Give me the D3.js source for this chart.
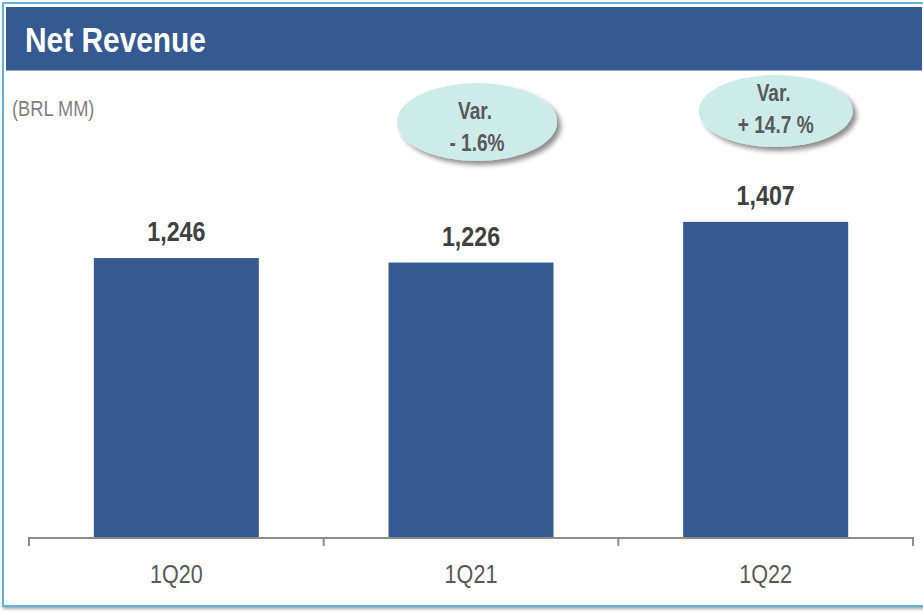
<!DOCTYPE html>
<html>
<head>
<meta charset="utf-8">
<script src="https://cdn.jsdelivr.net/npm/d3@7"></script>
<style>
  html, body { margin: 0; padding: 0; background: #fff; }
  svg { display: block; font-family: "Liberation Sans", Arial, sans-serif; }
</style>
</head>
<body>
<div id="chart"></div>
<script>
"use strict";

// data
const categories = ["1Q20", "1Q21", "1Q22"];
const values = [1246, 1226, 1407];
const valueLabels = ["1,246", "1,226", "1,407"];
const variations = [null, "- 1.6%", "+ 14.7 %"];

const width = 923, height = 613;
const narrow = 0.83; // squeeze text horizontally, the slide uses a narrow face

const svg = d3.select("#chart")
  .append("svg")
  .attr("width", width)
  .attr("height", height);

const defs = svg.append("defs");
const shadow = defs.append("filter").attr("id", "shadow")
  .attr("x", "-20%").attr("y", "-20%").attr("width", "150%").attr("height", "150%");
shadow.append("feGaussianBlur").attr("in", "SourceAlpha").attr("stdDeviation", 2.5);
shadow.append("feOffset").attr("dx", 4).attr("dy", 4).attr("result", "off");
shadow.append("feComponentTransfer").append("feFuncA").attr("type", "linear").attr("slope", 0.45);
const merge = shadow.append("feMerge");
merge.append("feMergeNode");
merge.append("feMergeNode").attr("in", "SourceGraphic");

const frameShadow = defs.append("filter").attr("id", "frameShadow")
  .attr("x", "-5%").attr("y", "-5%").attr("width", "110%").attr("height", "110%");
frameShadow.append("feGaussianBlur").attr("in", "SourceAlpha").attr("stdDeviation", 1.5);
frameShadow.append("feOffset").attr("dx", 1).attr("dy", 2).attr("result", "off");
frameShadow.append("feComponentTransfer").append("feFuncA").attr("type", "linear").attr("slope", 0.35);
const merge2 = frameShadow.append("feMerge");
merge2.append("feMergeNode");
merge2.append("feMergeNode").attr("in", "SourceGraphic");

// place a squeezed text at (tx, ty)
function squeeze(sel, tx, ty) {
  return sel.attr("transform", function (d, i) {
    const px = typeof tx === "function" ? tx(d, i) : tx;
    const py = typeof ty === "function" ? ty(d, i) : ty;
    return "translate(" + px + "," + py + ") scale(" + narrow + ",1)";
  });
}

// outer frame
svg.append("rect")
  .attr("x", 3).attr("y", 3)
  .attr("width", 960).attr("height", 603)
  .attr("fill", "#fff")
  .attr("stroke", "#5fb3dc")
  .attr("stroke-width", 2)
  .attr("filter", "url(#frameShadow)");

// header band
svg.append("rect")
  .attr("x", 6).attr("y", 7)
  .attr("width", 916).attr("height", 63)
  .attr("fill", "#355a92");
svg.append("line")
  .attr("x1", 6).attr("x2", 922)
  .attr("y1", 70.5).attr("y2", 70.5)
  .attr("stroke", "#8ea8cf").attr("stroke-width", 1);

squeeze(svg.append("text"), 25, 52)
  .attr("fill", "#fff")
  .attr("font-size", 36)
  .attr("font-weight", "bold")
  .text("Net Revenue");

squeeze(svg.append("text"), 12, 116)
  .attr("fill", "#7f7f7f")
  .attr("font-size", 22)
  .text("(BRL MM)");

// scales
const x = d3.scaleBand()
  .domain(categories)
  .range([29, 913])
  .paddingInner(0.44)
  .paddingOuter(0.22);

const y = d3.scaleLinear()
  .domain([0, 1600])
  .range([538, 178.5]);

// bars
svg.selectAll(".bar")
  .data(values)
  .enter()
  .append("rect")
  .attr("class", "bar")
  .attr("x", (d, i) => x(categories[i]))
  .attr("y", d => y(d))
  .attr("width", x.bandwidth())
  .attr("height", d => y(0) - y(d))
  .attr("fill", "#355a92");

// value labels
squeeze(svg.selectAll(".val")
  .data(values)
  .enter()
  .append("text")
  .attr("class", "val"),
  (d, i) => x(categories[i]) + x.bandwidth() / 2,
  d => y(d) - 17)
  .attr("text-anchor", "middle")
  .attr("fill", "#404040")
  .attr("font-size", 28)
  .attr("font-weight", "bold")
  .text((d, i) => valueLabels[i]);

// axis: baseline with ticks on the category boundaries
const gap = x.step() - x.bandwidth();
const bounds = categories.map(c => x(c) - gap / 2);
bounds.push(x(categories[categories.length - 1]) + x.bandwidth() + gap / 2);

const axis = svg.append("g").attr("stroke", "#8c8c8c").attr("stroke-width", 2);
axis.append("line")
  .attr("x1", bounds[0]).attr("x2", bounds[bounds.length - 1])
  .attr("y1", y(0)).attr("y2", y(0));
axis.selectAll(".tick")
  .data(bounds)
  .enter()
  .append("line")
  .attr("x1", d => d).attr("x2", d => d)
  .attr("y1", y(0) - 1).attr("y2", y(0) + 8);

squeeze(svg.selectAll(".cat")
  .data(categories)
  .enter()
  .append("text")
  .attr("class", "cat"),
  d => x(d) + x.bandwidth() / 2,
  583)
  .attr("text-anchor", "middle")
  .attr("fill", "#595959")
  .attr("font-size", 26)
  .text(d => d);

// variation bubbles
const bubbleOffsets = [
  null,
  { dx: 6, cy: 122, rx: 80, ry: 39, t1: -3, t2: 29 },
  { dx: 10, cy: 111, rx: 77, ry: 36, t1: -10, t2: 22 }
];
const bubbles = svg.selectAll(".bubble")
  .data(variations.map((v, i) => ({ v, i })).filter(d => d.v))
  .enter()
  .append("g")
  .attr("class", "bubble")
  .attr("transform", d => {
    const o = bubbleOffsets[d.i];
    return "translate(" + (x(categories[d.i]) + x.bandwidth() / 2 + o.dx) + "," + o.cy + ")";
  });

bubbles.append("ellipse")
  .attr("rx", d => bubbleOffsets[d.i].rx)
  .attr("ry", d => bubbleOffsets[d.i].ry)
  .attr("fill", "#cdece9")
  .attr("filter", "url(#shadow)");

squeeze(bubbles.append("text"), -2, d => bubbleOffsets[d.i].t1)
  .attr("text-anchor", "middle")
  .attr("fill", "#595959")
  .attr("font-size", 23)
  .attr("font-weight", "bold")
  .text("Var.");

squeeze(bubbles.append("text"), 0, d => bubbleOffsets[d.i].t2)
  .attr("text-anchor", "middle")
  .attr("fill", "#595959")
  .attr("font-size", 23)
  .attr("font-weight", "bold")
  .text(d => d.v);
</script>
</body>
</html>
